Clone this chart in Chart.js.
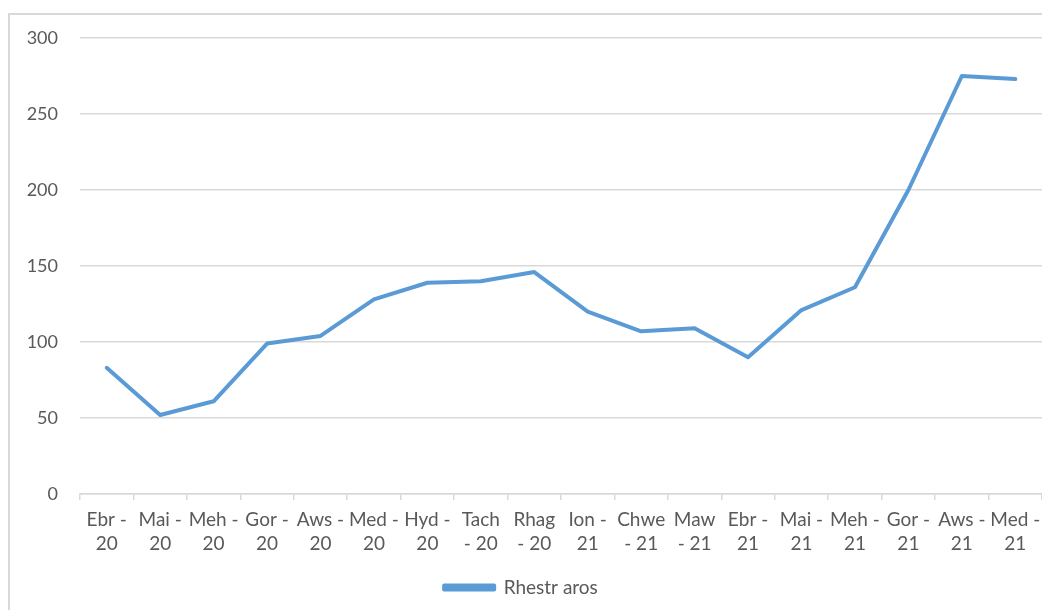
<!DOCTYPE html>
<html lang="cy">
<head>
  <meta charset="UTF-8">
  <title>Rhestr aros</title>
  <style>
    html, body {
      margin: 0;
      padding: 0;
      background: #fff;
      overflow: hidden;
    }
    .frame {
      position: absolute;
      left: 8px;
      top: 13px;
      width: 1100px;
      height: 700px;
      border: 2px solid #d9d9d9;
    }
    .wrap {
      position: absolute;
      left: 0;
      top: 0;
      width: 1042px;
      height: 610px;
    }
  </style>
</head>
<body>
  <div class="frame"></div>
  <div class="wrap"><canvas id="chart"></canvas></div>

  <script src="https://cdn.jsdelivr.net/npm/chart.js"></script>
  <script>
    // misoedd, wedi'u torri dros ddwy linell fel ar yr echel
    const months = [
      ['Ebr -', '20'], ['Mai -', '20'], ['Meh -', '20'], ['Gor -', '20'],
      ['Aws -', '20'], ['Med -', '20'], ['Hyd -', '20'], ['Tach', '- 20'],
      ['Rhag', '- 20'], ['Ion -', '21'], ['Chwe', '- 21'], ['Maw', '- 21'],
      ['Ebr -', '21'], ['Mai -', '21'], ['Meh -', '21'], ['Gor -', '21'],
      ['Aws -', '21'], ['Med -', '21']
    ];
    const waitingList = [83, 52, 61, 99, 104, 128, 139, 140, 146, 120, 107, 109, 90, 121, 136, 200, 275, 273];
    const yTicks = [0, 50, 100, 150, 200, 250, 300];

    const blue = '#5b9bd5';
    const grey = '#d9d9d9';
    const textGrey = '#595959';
    const family = 'Lato, "Noto Sans", sans-serif';

    new Chart(document.getElementById('chart'), {
      type: 'line',
      data: {
        labels: months,
        datasets: [{
          label: 'Rhestr aros',
          data: waitingList,
          borderColor: blue,
          backgroundColor: blue,
          borderWidth: 4,
          pointRadius: 0,
          tension: 0,
          borderJoinStyle: 'round',
          borderCapStyle: 'round'
        }]
      },
      options: {
        responsive: true,
        maintainAspectRatio: false,
        animation: false,
        layout: { padding: { top: 38, right: 0, bottom: 3, left: 0 } },
        plugins: {
          legend: {
            position: 'bottom',
            labels: {
              color: textGrey,
              font: { family, size: 19 },
              boxWidth: 50,
              boxHeight: 4,
              padding: 14
            }
          },
          tooltip: { enabled: false }
        },
        scales: {
          x: {
            offset: true,
            // let the last label run to the canvas edge instead of shrinking the plot
            afterFit: scale => { scale.paddingRight = 0; },
            grid: {
              offset: true,
              drawOnChartArea: false,
              color: grey,
              tickLength: 6,
              lineWidth: 1.5
            },
            border: { color: grey, width: 1.5 },
            ticks: {
              color: textGrey,
              font: { family, size: 19, lineHeight: '24px' },
              maxRotation: 0,
              autoSkip: false,
              padding: 8
            }
          },
          y: {
            min: 0,
            max: 300,
            afterBuildTicks: scale => {
              scale.ticks = yTicks.map(v => ({ value: v }));
            },
            afterFit: scale => { scale.width = 80; },
            grid: {
              color: grey,
              lineWidth: 1.5,
              drawTicks: false
            },
            border: { display: false },
            ticks: {
              color: textGrey,
              font: { family, size: 18 },
              padding: 22
            }
          }
        }
      }
    });
  </script>
</body>
</html>
